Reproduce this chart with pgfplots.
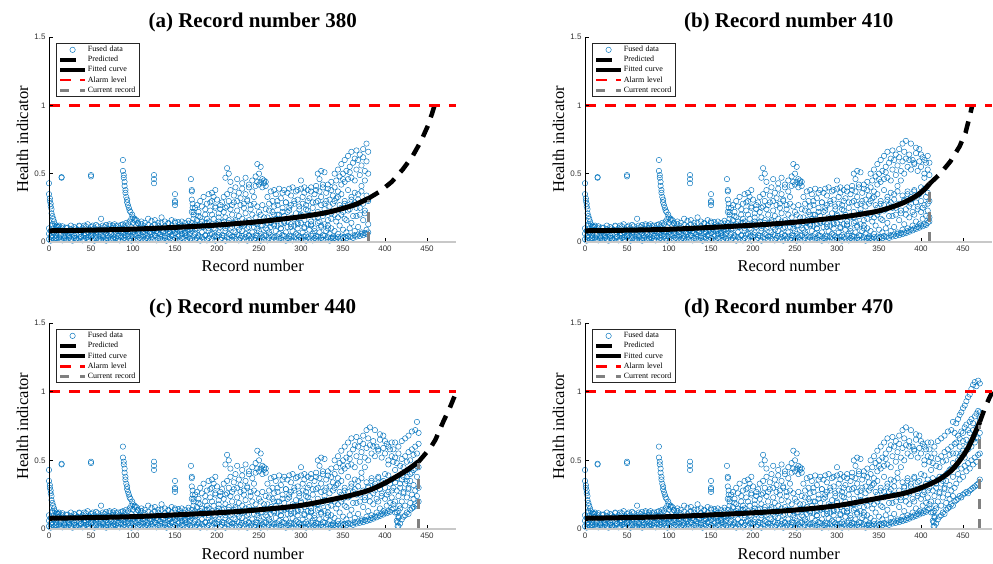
\documentclass[border=0pt]{standalone}
\usepackage{pgfplots}
\pgfplotsset{compat=1.18}
\usepackage{pgfplotstable}
\usepackage{fontspec}
\setmainfont{Liberation Serif}
\newfontfamily\arialf{Liberation Sans}
\definecolor{mblue}{RGB}{0,114,189}
\definecolor{tickgray}{RGB}{50,50,50}
\definecolor{axgray}{RGB}{200,200,200}
\definecolor{crgray}{RGB}{128,128,128}

% values in percent of the health indicator
\pgfplotstableread{
x a b c d
0 2 6 10 nan
2 1 8 4 nan
4 3 5 12 13
6 1.5 7 7 nan
8 2.5 4.5 3 11
10 1.5 9 11 nan
12 3.5 6.5 9 12
14 2 5.5 5 nan
16 1.2 8.5 11.5 10
18 3 4 2 nan
20 1.8 7.5 8 10.5
22 1.5 6 10.5 nan
24 4 5 3 nan
26 2.2 7 9.5 12
28 1 8.5 6 nan
30 3 4.5 11 nan
32 1.5 6.5 2.5 10
34 1.5 9 8.5 nan
36 2.5 5.5 12 11.5
38 3.5 7 4 nan
40 1.2 8 10 nan
42 2 5 6.5 12
44 3 6 11.5 nan
46 1.5 7.5 3.5 13
48 1.8 9 9 nan
50 4 4.5 11 nan
52 2.5 6.5 5 12
54 1 8 10 nan
56 3 5.5 7.5 12.5
58 1.5 7 11.5 nan
60 2.2 9 4 nan
62 1.5 6 10 17
64 3.5 4.5 8.5 12
66 2 7.5 11 nan
68 1 8.5 3 12.5
70 2.8 5 9.5 nan
72 4 7 12 13
74 1.5 6 6 nan
76 2.5 9 10.5 12
78 1.5 5.5 3.5 13
80 3 7.5 11.5 nan
82 2 4.5 8 12
84 1.2 8 10 nan
86 3.5 6.5 4.5 12.5
88 2 7 10 13
90 3 5 12 nan
92 1.5 9 8 14
94 4 6 13 nan
96 2.5 8 7 15
98 1 4.5 11 17
100 3.5 7.5 14 nan
102 2 5.5 9 16
104 4.5 8.5 12 nan
106 1.2 6.5 6.5 13.5
108 3 9 10.5 nan
110 2 5 13 15
112 4 7 7.5 nan
114 1.5 6 11.5 14
116 3 8.5 9 nan
118 2.5 4.5 12.5 17
120 1.5 7.5 7 nan
122 3.5 6 11 15.5
124 2 9 8.5 nan
126 4.5 5 13 16
128 1.2 8 6.5 nan
130 3 6.5 12 14
132 2.2 5.5 9.5 nan
134 4 8.5 14 18
136 1.5 7 8 nan
138 3 4.5 11.5 15
140 1 9 10 nan
142 3.5 6 13.5 14
144 2.5 7.5 7 nan
146 4.5 5 12 16
148 1.5 8.5 9 nan
150 3 6.5 14 15
152 2 9.5 7.5 nan
154 4 5.5 11 14.5
156 1.2 8 13 nan
158 3 6 8.5 15
160 2.2 9 12 nan
162 4.5 7 6.5 14
164 1.5 5 10.5 nan
166 3.5 8.5 13.5 15.5
168 2.5 6 9 nan
}\lowdata

\pgfplotstableread{
x a b c d e f
170 2 8 14 22 nan 10
172 4 12 20 17 nan nan
174 1.5 6 25 13 nan 9
176 3 10 16 27 nan nan
178 5 4 22 19 nan 12
180 1 13 18 30 nan nan
182 3.5 7 26 15 nan 11
184 2 11 12 33 nan nan
186 4.5 5 20 24 nan 14
188 1.2 14 28 17 nan nan
190 3 8 15 35 nan 10
192 5.5 12 23 29 nan nan
194 2 6 30 20 36 13
196 4 10 17 33 nan nan
198 1 4.5 25 26 38 9
200 3.5 13 13 31 nan nan
202 5 7 21 18 nan 15
204 1.8 11 27 24 nan nan
206 3 5 14 29 nan 12
208 4.5 15 22 33 nan nan
210 1 8 18 25 47 10
212 3.5 12 26 35 54 nan
214 2.2 6 16 30 50 14
216 5 10 24 38 44 nan
218 1.5 4 20 27 nan 11
220 4 14 29 34 nan nan
222 2 7 15 40 nan 16
224 5.5 11 23 30 46 nan
226 1.2 5 19 36 nan 9
228 3 13 27 32 nan nan
230 4.5 8 17 39 43 13
232 2 12 25 28 nan nan
234 3.5 6 21 35 47 15
236 1 10 30 31 nan nan
238 5 4.5 16 40 42 11
240 2.5 14 24 27 nan nan
242 4 7 20 37 45 nan
244 1.5 11 28 33 nan 14
246 3 5 18 41 48 nan
248 4.5 13 26 44 57 10
250 2 8 22 42 50 nan
252 1 6 20 44 55 12
254 3.5 12 27 40 46 nan
256 2 5 15 43 45 18
258 4.5 10 24 41 44 nan
260 1.2 14 18 33 nan 9
262 3 7 28 23 nan nan
264 5 11 14 37 nan 16
266 1.8 4 22 30 nan nan
268 3.5 13 26 20 38 12
270 1.5 8 17 35 nan nan
272 4 12 30 27 nan 20
274 2.2 6 20 39 nan nan
276 3 10 13 32 nan 10
278 1.5 5 25 22 36 nan
280 4.5 14 19 38 nan 15
282 1 7 29 29 nan nan
284 3 11 15 36 nan 22
286 2.5 4.5 23 25 39 nan
288 4 13 27 34 nan 11
290 1.2 8 18 40 nan nan
292 3.5 12 30 28 nan 17
294 2 6 21 37 nan nan
296 5 10 14 31 38 13
298 1.5 4 26 24 nan nan
300 3 14 19 39 nan 20
302 1.8 7 28 33 nan nan
304 4 11 16 36 40 10
306 1 5 24 27 nan nan
308 3.5 13 30 38 nan 23
310 2.2 9 20 32 nan nan
312 4.5 12 13 40 37 15
314 1.2 6 25 29 nan nan
316 3 10 18 35 nan 8
318 2 4.5 29 41 38 nan
320 4 14 22 30 50 18
322 1.5 7 15 37 46 nan
324 3 11 27 33 52 12
326 1.5 5 19 40 42 nan
328 4.5 13 24 28 51 21
330 2 8 30 36 nan nan
332 3.5 12 16 42 39 10
334 1 6 26 31 nan nan
336 3 10 21 38 44 17
338 2.5 4 28 34 nan nan
340 3 8 20 40 50 30
342 2 15 32 45 nan nan
344 3.5 6 18 37 53 33
346 2.5 12 27 48 nan nan
348 4 20 35 42 57 25
350 3 9 22 50 46 nan
352 3.8 17 30 44 60 28
354 2.8 7 16 52 nan nan
356 4.5 23 38 46 63 27
358 3.5 10 24 55 51 nan
360 4 14 33 47 66 31
362 3 27 19 58 nan nan
364 5 8 36 45 61 29
366 4 19 25 53 67 nan
368 5.5 11 31 60 nan 35
370 4.5 25 20 49 64 nan
372 6 7 37 56 nan 41
374 5 16 28 62 68 nan
376 6.5 21 23 52 nan 45
378 5.8 9 34 59 72 nan
380 7 13 31 50 66 30
382 6.5 24 20 61 74 nan
384 8 10 37 55 nan 35
386 7.5 18 26 64 60 nan
388 9 28 33 53 72 31
390 8.5 12 22 60 nan nan
392 10 20 38 57 58 37
394 9.5 15 29 65 69 nan
396 11 26 24 52 nan 34
398 10.5 13 35 59 68 nan
400 12 22 30 55 64 40
402 11.5 17 25 62 nan nan
404 13 27 39 50 60 47
406 12.5 19 33 58 nan nan
408 14 23 28 53 63 36
410 15 18 30 49 58 nan
412 12 20 34 52 63 43
414 6 12 28 48 nan 37
416 2 8 24 55 60 nan
418 4 15 30 46 nan 33
420 7 20 36 51 64 nan
422 9 26 27 45 nan 38
424 10 17 33 53 66 nan
426 12 23 38 49 nan 35
428 11 30 29 56 68 nan
430 14 19 35 50 nan 40
432 15 25 41 58 71 nan
434 16 22 32 54 nan 43
436 18 28 44 60 72 nan
438 17 24 38 55 78 48
440 20 30 45 62 70 nan
442 21 33 46 63 77 55
444 22 40 50 68 80 nan
446 24 36 53 66 83 60
448 23 44 55 71 85 nan
450 25 38 57 70 88 64
452 26 46 52 74 90 nan
454 27 42 60 76 93 65
456 26 48 58 72 96 nan
458 28 44 62 78 98 70
460 29 50 60 80 102 nan
462 30 47 65 77 105 72
464 31 52 63 82 107 nan
466 32 49 67 84 104 74
468 33 54 66 86 108 nan
470 36 55 70 85 106 80
}\highdata

\pgfplotstableread{
x y
0 43
0 35
1 32
1 30
2 28
2 26
3 24
3 21
4 19
5 17
6 15
7 13
9 12
11 11
15 47
15 47.5
50 48
50 49
88 60
88 52
89 49
89 47
90 44
90 41
91 38
91 36
92 33
93 31
93 29
94 27
95 25
96 23
97 22
99 20
100 18
102 17
104 16
106 14
125 49
125 46
125 43
150 35
150 30
150 29
150 27
169 46
170 38
170 37
170 31
171 28
171 25
172 22
300 45
415 2
415 5
416 9
416 13
417 17
}\spikes

\pgfplotsset{
  sc/.style={only marks, mark=o, mark size=2.7pt, color=mblue,
    mark options={line width=0.45pt}, restrict x to domain=0:#1,
    legend image code/.code={\draw[##1] plot coordinates {(12.5pt,0pt)};}},
  pred/.style={black, line width=4.5pt, dash pattern=on 12pt off 9pt,
    legend image code/.code={\draw[##1,solid] (0pt,0pt) -- (16pt,0pt);}},
  fitc/.style={black, line width=5pt, smooth,
    legend image code/.code={\draw[##1,line width=4pt] (0pt,0pt) -- (25pt,0pt);}},
  alarm/.style={red, line width=2.7pt, dash pattern=on 11pt off 9pt,
    legend image code/.code={\draw[##1] (0pt,0pt) -- (25pt,0pt);}},
  cur/.style={crgray, line width=3pt, dash pattern=on 10pt off 10pt,
    legend image code/.code={\draw[##1,dash pattern=on 9pt off 11pt] (0pt,0pt) -- (25pt,0pt);}},
  panel/.style={width=407.4pt, scale only axis, xmin=0, xmax=485, ymin=0, ymax=150,
    axis lines*=left, x axis line style={axgray, line width=2pt},
    y axis line style={black, line width=0.7pt},
    tick align=inside, major tick length=4pt, tick style={black, line width=0.6pt},
    xtick={0,50,...,450}, ytick={0,50,100,150}, yticklabels={0,0.5,1,1.5},
    tick label style={font=\arialf\fontsize{8}{9}\selectfont, text=tickgray},
    /pgf/number format/assume math mode=true,
    xlabel={Record number}, ylabel={Health indicator},
    label style={font=\fontsize{16.5}{19}\selectfont},
    xlabel style={at={(axis description cs:0.5,-0.146)}, anchor=base},
    ylabel style={at={(axis description cs:-0.0515,0.5)}, anchor=base},
    every axis title shift=0pt,
    title style={at={(axis description cs:0.5,1.044)}, anchor=base,
      font=\bfseries\fontsize{21}{24}\selectfont},
    legend style={at={(axis description cs:0.0172,0.971)}, anchor=north west,
      draw=black!85, line width=0.7pt, inner sep=1.5pt, fill=white,
      font=\fontsize{8}{9}\selectfont,
      nodes={inner sep=0.8pt, text width=49pt, align=left,
        text height=6.2pt, text depth=2.3pt}, row sep=0pt},
    legend entries={Fused data, Predicted, Fitted curve, Alarm level, Current record},
    clip=false, clip marker paths=true, axis on top},
}

\newcommand{\scatall}[1]{%
\addplot[sc=#1] table[x=x,y=a]{\lowdata};
\addplot[sc=#1,forget plot] table[x=x,y=b]{\lowdata};
\addplot[sc=#1,forget plot] table[x=x,y=c]{\lowdata};
\addplot[sc=#1,forget plot] table[x=x,y=d]{\lowdata};
\addplot[sc=#1,forget plot] table[x=x,y=a]{\highdata};
\addplot[sc=#1,forget plot] table[x=x,y=b]{\highdata};
\addplot[sc=#1,forget plot] table[x=x,y=c]{\highdata};
\addplot[sc=#1,forget plot] table[x=x,y=d]{\highdata};
\addplot[sc=#1,forget plot] table[x=x,y=e]{\highdata};
\addplot[sc=#1,forget plot] table[x=x,y=f]{\highdata};
\addplot[sc=#1,forget plot] table[x=x,y=y]{\spikes};
}

\begin{document}
\begin{tikzpicture}
\path[use as bounding box] (0,0) rectangle (993pt,563pt);

% (a)
\begin{axis}[panel, height=205pt, at={(49pt,321pt)}, anchor=south west,
  title={(a) Record number 380}]
\scatall{380}
\addplot[pred] coordinates {(380,31.8) (394,37) (408,44) (421,53) (433,63) (443,74) (451,85) (456,94) (459,100)};
\addplot[fitc] coordinates {(0,8.2) (50,8.7) (100,9.4) (150,10.7) (200,12.4) (250,14.9) (300,18.5) (330,21.5) (350,24.6) (365,27.5) (380,31.8)};
\addplot[alarm] coordinates {(0,100) (485,100)};
\addplot[cur] coordinates {(380,0) (380,31)};
\end{axis}

% (b)
\begin{axis}[panel, height=205pt, at={(585pt,321pt)}, anchor=south west,
  title={(b) Record number 410}]
\scatall{410}
\addplot[pred] coordinates {(410,42.5) (423,50) (435,59) (446,70) (453,80) (458,92) (461,100)};
\addplot[fitc] coordinates {(0,8.2) (100,9.3) (200,12.3) (250,14.5) (300,17.8) (340,21.5) (360,24.5) (380,29) (395,34) (405,39) (410,42.5)};
\addplot[alarm] coordinates {(0,100) (485,100)};
\addplot[cur] coordinates {(410,0) (410,42)};
\end{axis}

% (c)
\begin{axis}[panel, height=206pt, at={(49pt,34pt)}, anchor=south west,
  title={(c) Record number 440}]
\scatall{440}
\addplot[pred] coordinates {(440,49) (454,59) (460,65) (470,79) (477,88) (485,100)};
\addplot[fitc] coordinates {(0,7.8) (100,9) (200,11.8) (250,14) (300,17.2) (350,23.2) (380,28) (400,33.5) (420,40.5) (430,44.5) (440,49)};
\addplot[alarm] coordinates {(0,100) (485,100)};
\addplot[cur] coordinates {(440,0) (440,48)};
\end{axis}

% (d)
\begin{axis}[panel, height=206pt, at={(585pt,34pt)}, anchor=south west,
  title={(d) Record number 470}]
\scatall{470}
\addplot[pred] coordinates {(470,78) (476,88) (481,95) (485,100)};
\addplot[fitc] coordinates {(0,7.8) (100,9) (200,11.8) (250,13.8) (300,17) (350,22.5) (380,26) (400,30) (420,35.5) (435,42) (445,49) (455,58) (463,68) (470,78)};
\addplot[alarm] coordinates {(0,100) (485,100)};
\addplot[cur] coordinates {(470,0) (470,76)};
\end{axis}
\end{tikzpicture}
\end{document}
